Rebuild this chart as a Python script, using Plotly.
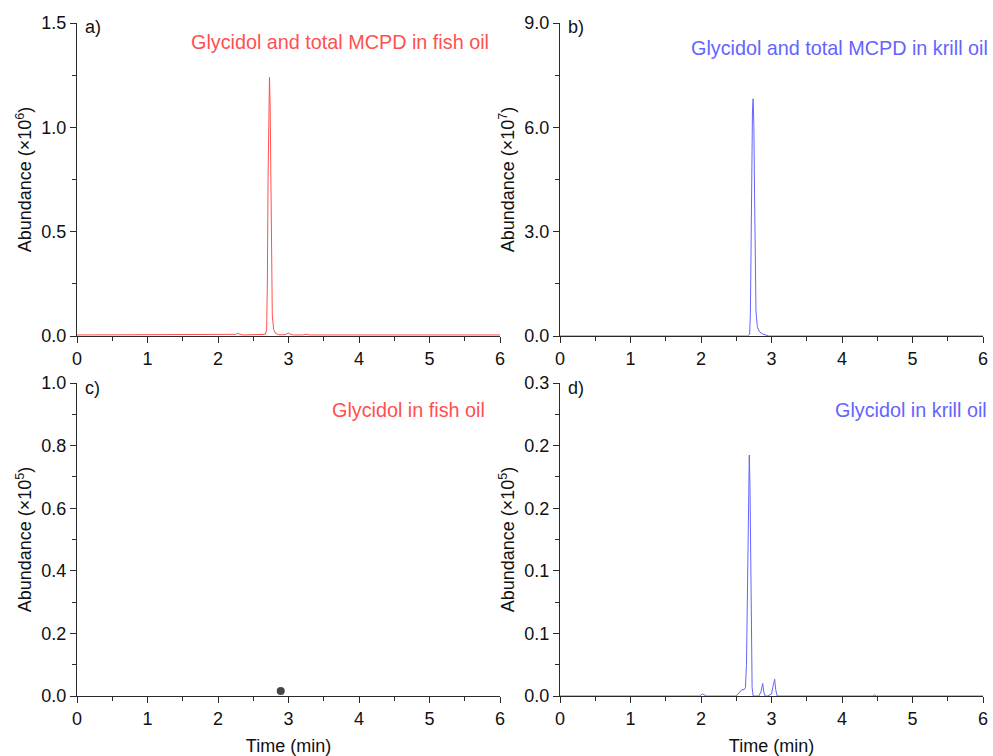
import plotly.graph_objects as go

# ---------------- data ----------------
# a) Glycidol and total MCPD in fish oil (abundance x10^6)
t_a = [0, 2.20, 2.25, 2.28, 2.31, 2.36, 2.62, 2.67, 2.69, 2.70, 2.71, 2.72, 2.73, 2.74,
       2.75, 2.76, 2.77, 2.79, 2.82, 2.86, 2.95, 2.98, 3.00, 3.03, 3.07, 3.20, 3.25, 3.30, 6.0]
v_a = [0.005, 0.005, 0.008, 0.013, 0.008, 0.005, 0.005, 0.008, 0.03, 0.25, 0.75, 1.15, 1.24, 1.10,
       0.70, 0.30, 0.10, 0.03, 0.012, 0.006, 0.006, 0.012, 0.014, 0.008, 0.005, 0.005, 0.008, 0.005, 0.005]

# b) Glycidol and total MCPD in krill oil (abundance x10^7)
t_b = [0, 2.66, 2.69, 2.70, 2.71, 2.72, 2.73, 2.74, 2.75, 2.76, 2.77, 2.78, 2.80, 2.83,
       2.87, 2.92, 2.96, 6.0]
v_b = [0.0, 0.0, 0.05, 0.6, 2.5, 5.0, 6.5, 6.82, 6.0, 4.0, 1.8, 0.7, 0.25, 0.12,
       0.06, 0.02, 0.0, 0.0]

# c) Glycidol in fish oil (abundance x10^5)
t_c = [2.89]
v_c = [0.016]

# d) Glycidol in krill oil (abundance x10^5)
t_d = [0, 1.98, 2.02, 2.05, 2.08, 2.50, 2.55, 2.58, 2.61, 2.63, 2.645, 2.655, 2.665, 2.675,
       2.685, 2.695, 2.705, 2.715, 2.725, 2.74, 2.82, 2.85, 2.875, 2.89, 2.91, 2.95, 3.00,
       3.03, 3.045, 3.06, 3.08, 3.20, 4.43, 4.46, 4.49, 6.0]
v_d = [0, 0, 0.002, 0.001, 0, 0, 0.004, 0.006, 0.006, 0.008, 0.03, 0.09, 0.17, 0.22,
       0.231, 0.20, 0.12, 0.04, 0.008, 0.0, 0, 0.004, 0.012, 0.004, 0, 0, 0.002,
       0.012, 0.016, 0.006, 0, 0, 0, 0.001, 0, 0]

panel_labels = ["a)", "b)", "c)", "d)"]
panel_titles = ["Glycidol and total MCPD in fish oil", "Glycidol and total MCPD in krill oil",
                "Glycidol in fish oil", "Glycidol in krill oil"]
y_titles = ["Abundance (\u00d710<sup>6</sup>)", "Abundance (\u00d710<sup>7</sup>)",
            "Abundance (\u00d710<sup>5</sup>)", "Abundance (\u00d710<sup>5</sup>)"]
y_ranges = [[0, 1.5], [0, 9.0], [0, 1.0], [0, 0.3]]
y_tickvals = [[0, 0.5, 1.0, 1.5],
              [0, 3.0, 6.0, 9.0],
              [0, 0.2, 0.4, 0.6, 0.8, 1.0],
              [0, 0.06, 0.12, 0.18, 0.24, 0.30]]
y_ticktext = [["0.0", "0.5", "1.0", "1.5"],
              ["0.0", "3.0", "6.0", "9.0"],
              ["0.0", "0.2", "0.4", "0.6", "0.8", "1.0"],
              ["0.0", "0.1", "0.1", "0.2", "0.2", "0.3"]]
y_minor = [0.25, 1.5, 0.1, 0.03]
x_ticks = [0, 1, 2, 3, 4, 5, 6]
x_title = "Time (min)"

# ---------------- figure ----------------
W, H = 993, 756
ML, MT = 77, 23
MR = W - 983
MB = H - 696
PW, PH = W - ML - MR, H - MT - MB
FONT = "Arial, Liberation Sans, sans-serif"
RED = "rgb(255,80,80)"
BLUE = "rgb(100,100,255)"
AX = "#2a2a2a"


def px_x(p):
    # screen pixel -> paper coordinate
    return (p - ML) / PW


def px_y(p):
    return (H - MB - p) / PH


xdom = [[px_x(77), px_x(500)], [px_x(560), px_x(983)]]
ydom_top = [px_y(336), px_y(23)]
ydom_bot = [px_y(696), px_y(383)]
doms = [(xdom[0], ydom_top), (xdom[1], ydom_top), (xdom[0], ydom_bot), (xdom[1], ydom_bot)]

fig = go.Figure()
fig.add_trace(go.Scatter(x=t_a, y=v_a, mode="lines", line=dict(color=RED, width=1),
                         xaxis="x", yaxis="y", showlegend=False))
fig.add_trace(go.Scatter(x=t_b, y=v_b, mode="lines", line=dict(color=BLUE, width=1),
                         xaxis="x2", yaxis="y2", showlegend=False))
fig.add_trace(go.Scatter(x=t_c, y=v_c, mode="markers",
                         marker=dict(color="rgb(70,70,70)", size=8),
                         xaxis="x3", yaxis="y3", showlegend=False))
fig.add_trace(go.Scatter(x=t_d, y=v_d, mode="lines", line=dict(color=BLUE, width=1),
                         xaxis="x4", yaxis="y4", showlegend=False))

axis_common = dict(showline=True, linecolor=AX, linewidth=1.4, ticks="outside",
                   ticklen=6, tickwidth=1.3, tickcolor=AX, showgrid=False,
                   zeroline=False, mirror=False, automargin=False,
                   tickfont=dict(family=FONT, size=18, color="#111"))

layout = dict(width=W, height=H, margin=dict(l=ML, r=MR, t=MT, b=MB),
              paper_bgcolor="white", plot_bgcolor="white",
              font=dict(family=FONT, size=18, color="#111"))

title_right = [491, 990, 487, 989]
title_cy = [42, 48, 410, 410]
letter_cy = [27, 27, 388, 388]
letter_x = [83, 566, 83, 566]

annotations = []
for i, (xd, yd) in enumerate(doms):
    sfx = "" if i == 0 else str(i + 1)
    xa = dict(axis_common, domain=xd, range=[0, 6], tickvals=x_ticks,
              anchor="y" + sfx,
              minor=dict(dtick=0.5, ticks="outside", ticklen=3.5, tickwidth=1.3, tickcolor=AX))
    if i >= 2:
        xa["title"] = dict(text=x_title, font=dict(family=FONT, size=18), standoff=12)
    ya = dict(axis_common, domain=yd, range=y_ranges[i], tickvals=y_tickvals[i],
              ticktext=y_ticktext[i], anchor="x" + sfx,
              minor=dict(dtick=y_minor[i], tick0=0, ticks="outside", ticklen=3.5, tickwidth=1.3,
                         tickcolor=AX),
              title=dict(text=y_titles[i], font=dict(family=FONT, size=18), standoff=4))
    layout["xaxis" + sfx] = xa
    layout["yaxis" + sfx] = ya
    annotations.append(dict(text=panel_labels[i], x=px_x(letter_x[i]), y=px_y(letter_cy[i]),
                            xref="paper", yref="paper", xanchor="left", yanchor="middle",
                            showarrow=False, font=dict(family=FONT, size=18, color="#111")))
    col = RED if i % 2 == 0 else BLUE
    annotations.append(dict(text=panel_titles[i], x=px_x(title_right[i]), y=px_y(title_cy[i]),
                            xref="paper", yref="paper", xanchor="right", yanchor="middle",
                            showarrow=False, font=dict(family=FONT, size=19.8, color=col)))

layout["annotations"] = annotations
fig.update_layout(**layout)
fig.write_html("out.html",
               config={"displayModeBar": False},
               post_script="document.body.style.margin='0px';"
                           "document.documentElement.style.overflow='hidden';")
